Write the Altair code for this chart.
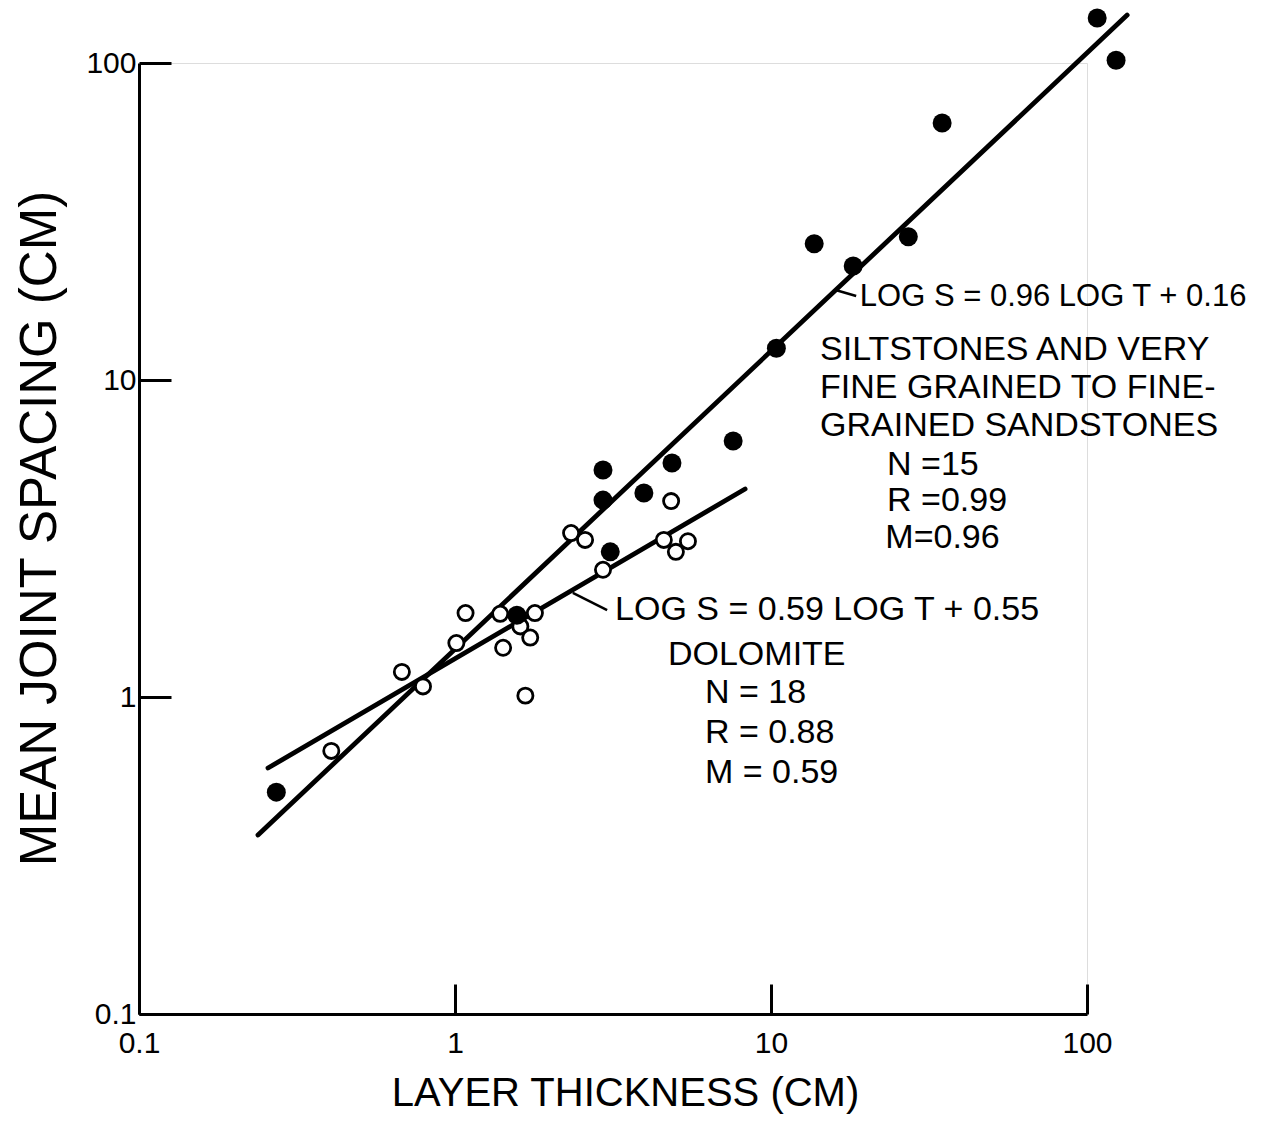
import altair as alt
import pandas as pd

# ---- data (cm) ----
# Siltstones and very fine grained to fine-grained sandstones (filled circles)
silt_t = [0.272, 2.94, 2.94, 3.10, 3.96, 4.86, 7.59, 10.4, 13.7, 18.2, 27.2, 34.8, 107.7, 123.6, 1.57]
silt_s = [0.501, 5.20, 4.18, 2.87, 4.40, 5.47, 6.42, 12.6, 26.9, 22.9, 28.3, 64.7, 138.6, 102.0, 1.81]

# Dolomite (open circles)
dolo_t = [0.406, 0.679, 0.792, 1.01, 1.08, 1.39, 1.42, 1.61, 1.73, 1.79, 1.67, 2.33, 2.58, 2.94, 4.58, 4.83, 5.00, 5.46]
dolo_s = [0.676, 1.20, 1.08, 1.48, 1.84, 1.83, 1.43, 1.67, 1.54, 1.84, 1.01, 3.29, 3.13, 2.52, 3.13, 4.15, 2.87, 3.10]

# regression line end points
silt_fit_t = [0.238, 134.0]
silt_fit_s = [0.367, 141.6]
dolo_fit_t = [0.256, 8.28]
dolo_fit_s = [0.597, 4.53]

# leader strokes from the lines to their equations
silt_lead_t = [16.1, 18.6]
silt_lead_s = [19.2, 18.4]
dolo_lead_t = [2.36, 3.03]
dolo_lead_s = [2.13, 1.88]

# annotation texts and their anchor (left edge) in data units
eq1_text = ["LOG S = 0.96 LOG T + 0.16"]
eq1_t = [19.1]
eq1_s = [18.3]

note_text = ["SILTSTONES AND VERY", "FINE GRAINED TO FINE-", "GRAINED SANDSTONES",
             "N =15", "R =0.99", "M=0.96",
             "LOG S = 0.59 LOG T + 0.55", "DOLOMITE", "N = 18", "R = 0.88", "M = 0.59"]
note_t = [14.3, 14.3, 14.3, 23.3, 23.3, 23.0, 3.21, 4.72, 6.18, 6.18, 6.18]
note_s = [12.4, 9.45, 7.16, 5.40, 4.15, 3.18, 1.88, 1.36, 1.03, 0.769, 0.575]

tick_values = [0.1, 1, 10, 100]

# ---- tables ----
silt_df = pd.DataFrame({"t": silt_t, "s": silt_s})
dolo_df = pd.DataFrame({"t": dolo_t, "s": dolo_s})
fit_df = pd.DataFrame({
    "t": silt_fit_t + dolo_fit_t,
    "s": silt_fit_s + dolo_fit_s,
    "g": ["silt", "silt", "dolo", "dolo"],
})
lead_df = pd.DataFrame({
    "t": silt_lead_t + dolo_lead_t,
    "s": silt_lead_s + dolo_lead_s,
    "g": ["silt", "silt", "dolo", "dolo"],
})
eq1_df = pd.DataFrame({"t": eq1_t, "s": eq1_s, "label": eq1_text})
note_df = pd.DataFrame({"t": note_t, "s": note_s, "label": note_text})

FONT = "Liberation Sans"

xscale = alt.Scale(type="log", domain=[0.1, 100], nice=False, zero=False)
yscale = alt.Scale(type="log", domain=[0.1, 100], nice=False, zero=False)

x_axis = alt.Axis(
    values=tick_values, format="~g", title="LAYER THICKNESS (CM)",
    grid=False, labelFlush=False, labelOverlap=False,
    tickSize={"expr": "-30"}, tickWidth=3, tickColor="black",
    domainWidth=3, domainColor="black",
    labelFontSize=30, labelFont=FONT, labelColor="black", labelPadding=44,
    titleFontSize=40, titleFont=FONT, titleFontWeight="normal", titleColor="black",
    titleX=486, titleY=91, titleAlign="center", titleBaseline="alphabetic",
)
y_axis = alt.Axis(
    values=tick_values, format="~g", title="MEAN JOINT SPACING (CM)",
    grid=False, labelFlush=False, labelOverlap=False,
    tickSize={"expr": "-32"}, tickWidth=3, tickColor="black",
    domainWidth=3, domainColor="black",
    labelFontSize=30, labelFont=FONT, labelColor="black", labelPadding=35,
    titleFontSize=51, titleFont=FONT, titleFontWeight="normal", titleColor="black",
    titleX=-99, titleY=465, titleAngle=270, titleAlign="center", titleBaseline="middle",
)

X = alt.X("t:Q", scale=xscale, axis=x_axis)
Y = alt.Y("s:Q", scale=yscale, axis=y_axis)
Xn = alt.X("t:Q", scale=xscale)
Yn = alt.Y("s:Q", scale=yscale)

fits = alt.Chart(fit_df).mark_line(color="black", strokeWidth=4.8, strokeCap="round").encode(
    x=X, y=Y, detail="g:N")
leads = alt.Chart(lead_df).mark_line(color="black", strokeWidth=2.5).encode(
    x=Xn, y=Yn, detail="g:N")
open_pts = alt.Chart(dolo_df).mark_point(
    shape="circle", filled=False, fill="white", stroke="black", strokeWidth=2.8,
    size=230, opacity=1).encode(x=Xn, y=Yn)
solid_pts = alt.Chart(silt_df).mark_point(
    shape="circle", filled=True, color="black", size=360, opacity=1).encode(x=Xn, y=Yn)
eq1 = alt.Chart(eq1_df).mark_text(
    align="left", baseline="middle", font=FONT, fontSize=31, color="black").encode(
    x=Xn, y=Yn, text="label:N")
notes = alt.Chart(note_df).mark_text(
    align="left", baseline="middle", font=FONT, fontSize=34, color="black").encode(
    x=Xn, y=Yn, text="label:N")

chart = alt.layer(fits, leads, open_pts, solid_pts, eq1, notes).properties(
    width=948, height=951,
    autosize=alt.AutoSizeParams(type="none"),
    padding={"left": 131, "top": 55, "right": 190, "bottom": 100},
).configure_view(stroke=None).configure(font=FONT, background="white")

chart.save("out.html", embed_options={"renderer": "svg", "actions": False})
